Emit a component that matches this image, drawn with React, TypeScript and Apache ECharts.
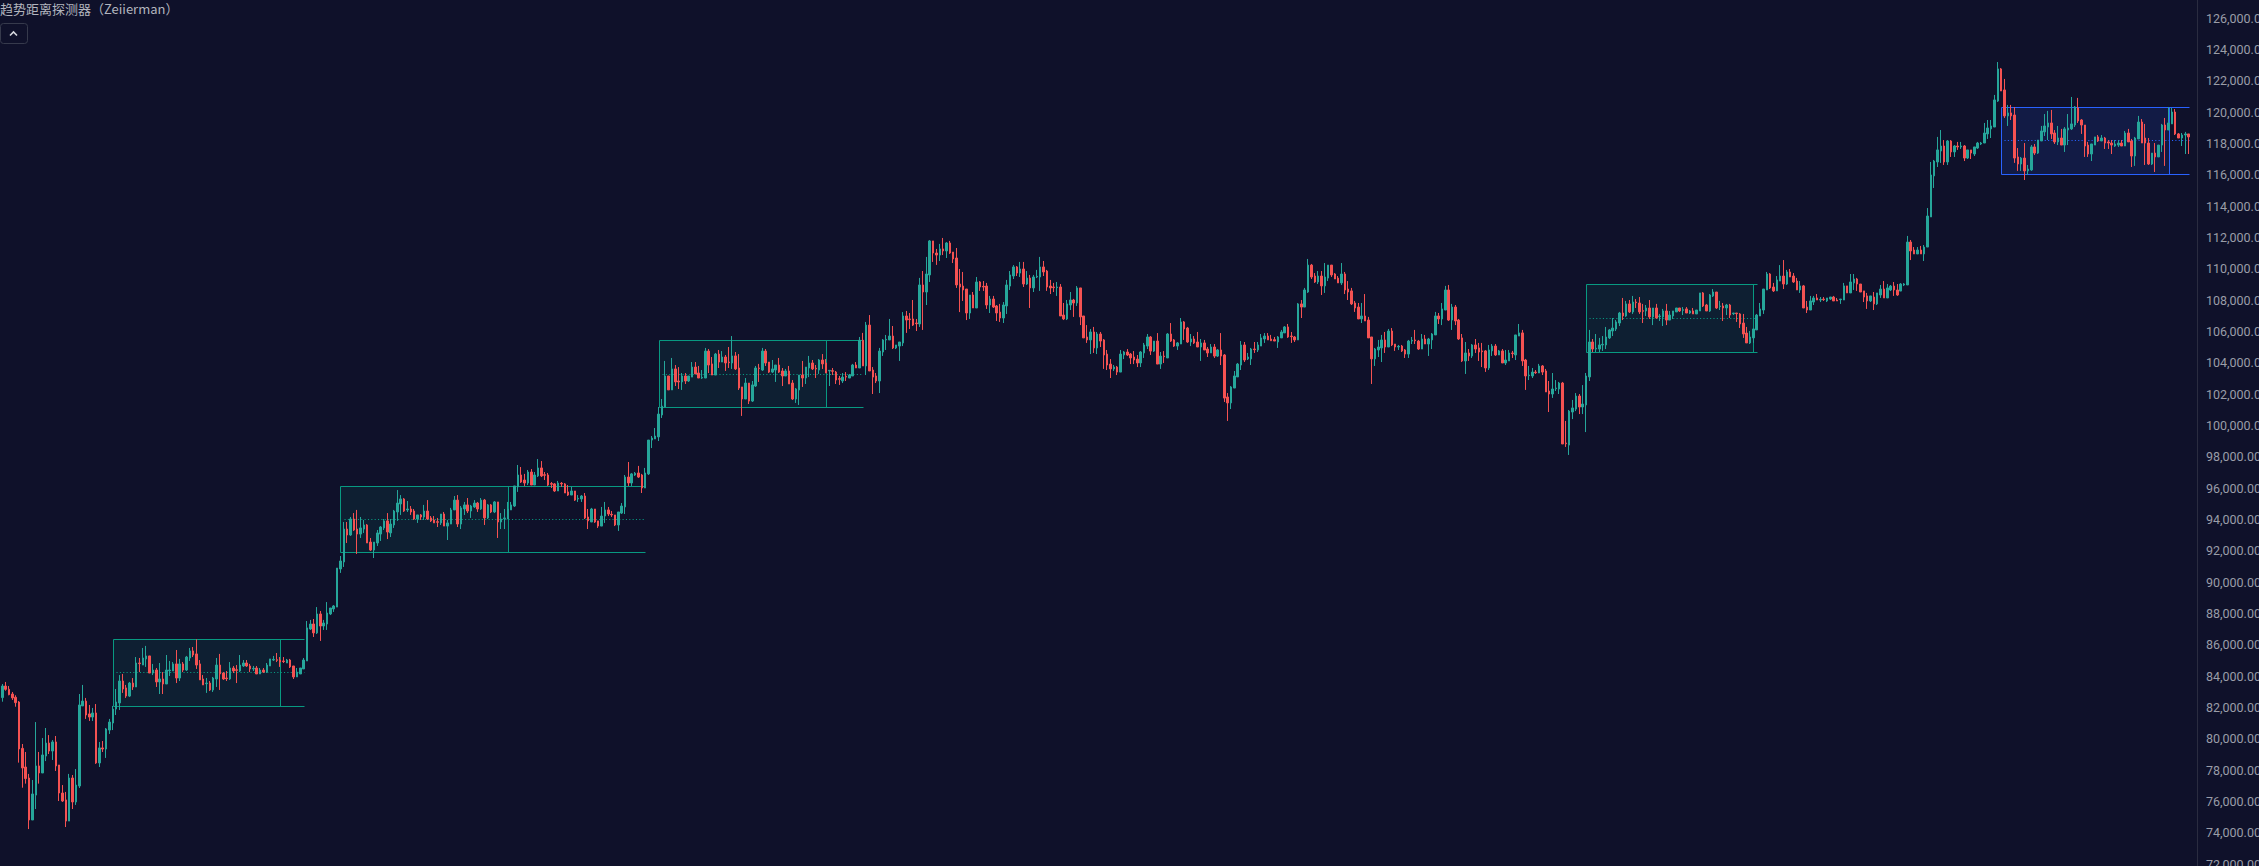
import * as echarts from "echarts";
import { useEffect, useRef } from "react";

// each row is [open, close, low, high]
const candlesA = [
  [82620,83360,82360,83490],[83360,83150,83060,83620],[83150,82810,82770,83360],[82850,82600,82470,82980],[82640,82300,82040,82770],
  [82340,79340,78470,82400],[79380,78130,76870,79660],[78190,77450,77130,79150],[77490,74810,74230,77750],[74810,76470,74810,77360],
  [76400,78260,75510,81060],[78260,77810,77130,79150],[77810,78960,77810,80040],[78890,79720,78570,80680],[79720,79210,79020,80230],
  [79210,79790,78640,79910],[79790,78260,77940,80170],[78320,76530,76020,78320],[76530,76020,75960,77040],[76090,74740,74360,76600],
  [74740,77490,74740,77750],[77490,75960,75510,77680],[75960,77040,75770,78060],[76980,82150,76850,82850],[82090,82400,82090,83430],
  [82400,81510,81260,82600],[81580,81380,81130,82150],[81380,81640,81130,81960],[81640,78450,78390,82210],[78450,79410,78190,79790],
  [79410,79340,79150,79850],[79340,80620,78770,80680],[80550,81060,80300,81260],[81000,81890,80550,82090],[81890,82340,81510,83170],
  [82280,83680,81830,84060],[83680,83170,82920,84130],[83240,82720,82600,83430],[82720,83550,82660,83620],[83550,83300,83110,83870],
  [83300,84830,83300,85210],[84830,84790,84250,85150],[84700,85150,84700,85790],[85090,85280,84580,85920],[85280,84190,84190,85280],
  [84190,84380,84060,84770],[84380,83620,83300,84510],[83620,83810,82850,84830],[83810,83490,82850,84250],[83490,84380,83490,85340],
  [84340,84380,84000,84960],[84320,84770,84320,84890],[84770,83870,83550,85660],[83870,84770,83680,85090],[84770,84380,84250,84890],
  [84380,85210,84320,85280],[85150,85600,84960,85790],[85600,85340,85210,85850],[85410,84700,84450,86340],[84770,83750,83750,85020],
  [83810,83430,83430,84060],[83510,83550,82920,83870],[83550,83110,83040,83680],[83110,83870,82980,83940],[83810,84700,83300,85150],
  [84700,84130,83110,85410],[84190,83810,83750,84250],[83870,83830,83680,84320],[83810,84510,83750,84890],[84510,84320,84190,84640],
  [84400,84360,83550,84700],[84320,84700,84250,85340],[84640,84830,84580,85020],[84830,84640,84580,85020],[84640,84450,84250,84770],
  [84450,84490,84320,84640],[84510,84130,84130,84640],[84130,84380,84130,84510],[84380,84250,84190,84510],[84250,84700,84190,84830],
  [84640,85090,84640,85090],[85020,85060,84960,85280],[85040,85000,84890,85470],[85020,84890,84580,85210],[84960,84920,84830,85210],
  [84830,85020,84830,85090],[85020,84580,84510,85090],[84640,83940,83810,84640],[83940,84250,83940,84510],[84130,84510,84130,84510],
  [84450,85020,84450,85150],[84960,87070,84960,87510],[87000,87320,86940,87580],[87320,86750,86490,87640],[86750,87960,86680,88400],
  [87960,87190,86240,88150],[87190,87380,86940,87580],[87320,88020,86940,88720],[87960,88340,87890,88340],[88280,88470,88090,88530],
  [88400,90890,88400,90890],
];
const candlesB = [
  [90830,91340,90580,91660],[91280,93380,90960,93830],[93380,93000,92490,93830],[93000,94020,92940,94150],[94020,93320,93260,94400],
  [93380,93060,91790,94600],[93060,93450,92810,94150],[93380,93640,93130,93960],[93640,92490,92490,93700],[92550,92040,91980,92810],
  [92040,92550,91530,92550],[92490,93130,92300,93320],[93060,93510,92620,93570],[93450,93900,93320,94020],[93900,93190,92740,94400],
  [93130,93700,92870,94020],[93640,94530,93450,94600],[94470,95040,93900,95870],[94980,95300,94280,95550],[95300,94530,94470,95360],
  [94600,94660,94470,95170],[94660,94470,94280,94850],[94530,94020,93960,94660],[94020,94280,93770,94280],[94280,94150,93960,94340],
  [94150,94530,93960,94920],[94530,94020,93960,95230],[94090,93900,93830,94210],[93960,93770,93770,94210],[93850,93810,93510,94090],
  [93770,94340,93640,94340],[94340,93570,93570,94470],[93570,93770,92680,93960],[93700,94600,93700,94730],[94600,95230,94600,95490],
  [95230,93700,93510,95550],[93700,94730,93380,94850],[94660,94920,94280,95110],[94920,94530,94400,95360],[94530,94850,94090,94920],
  [94790,95040,94730,95230],[95040,94660,94470,95110],[94660,95230,94600,95360],[95230,94090,93640,95300],[94090,94920,94020,94980],
  [94920,94470,94400,94980],[94470,95110,94400,95170],[95110,93830,92810,95110],[93830,94020,93380,94400],[94040,94090,93380,94660],
  [94020,94660,94020,95110],[94600,94920,94600,95110],[94850,96130,94790,96130],[96070,96830,95750,97470],[96830,96380,96320,97340],
  [96510,96320,96130,96900],[96320,97020,96190,97150],[97020,96190,96190,97210],[96190,96830,96190,97020],[96770,97280,96700,97850],
  [97280,96770,96700,97720],[96850,96810,96510,97020],[96830,96190,96130,96960],[96280,96240,96000,96380],[96260,95810,95750,96320],
  [95810,96320,95810,96450],[96300,96260,96070,96380],[96260,95680,95680,96320],[95750,95550,95490,96190],[95550,95810,95550,96070],
  [95810,95230,95170,95810],[95300,95340,95110,95550],[95300,95490,95110,95550],[95490,94090,94020,95680],[94150,93900,93380,94660],
  [93830,94660,93830,94730],[94660,93830,93770,94660],[93900,93570,93450,93900],[93570,94210,93570,94790],[94210,94600,93770,95110],
  [94600,94340,94210,94790],[94320,94280,94150,94530],[94280,93640,93570,94280],[93640,94470,93260,94470],[94400,94850,94340,95040],
  [94790,96700,94340,96830],[96700,96320,96130,97660],[96320,96900,96130,96960],[96830,96940,96770,97020],[96960,96700,96640,97410],
  [96830,96000,95680,96900],[96000,96960,96000,97280],[96900,99060,96830,99060],
];
const candlesC = [
  [99060,99190,98550,99320],[99130,99320,99130,99830],[99260,100720,99000,101170],[100660,101230,100470,101680],[101170,103150,101170,104110],
  [103150,102260,102260,103150],[102260,103600,102260,104300],[103600,102770,102510,103850],[102830,102770,102320,103720],[102770,103150,102260,103340],
  [103150,102830,102640,103340],[102830,103150,102770,103150],[103080,103720,103080,104040],[103720,103280,103280,104040],[103340,103020,103020,103790],
  [103020,103060,102960,103530],[103020,104740,103020,104940],[104740,103850,103340,104870],[103920,103210,103210,104360],[103210,104550,103210,104620],
  [104550,104040,103660,104810],[104040,104360,104040,104740],[104360,103980,103470,104490],[104040,104000,103660,105000],[103980,104430,103600,105700],
  [104430,103600,103530,104680],[103660,102380,102260,104550],[102450,101680,100600,102450],[101680,102700,101680,103020],[102700,101550,101360,102700],
  [101550,102580,101490,102830],[102510,103660,102450,103790],[103660,103620,102770,103920],[103530,104740,103470,104940],[104740,103980,103790,104870],
  [104040,103400,103340,104040],[103400,103600,103340,104170],[103530,103850,102770,103850],[103850,103400,103340,104300],[103470,103150,102510,103660],
  [103150,103470,103150,103600],[103470,102640,102640,103790],[102700,101680,101620,102890],[101680,102320,101430,102380],[102260,103210,101300,103210],
  [103210,103020,102450,104110],[103020,103720,102640,103720],[103660,103980,103080,104430],[103980,103600,103530,104170],[103640,103600,103020,103850],
  [103530,104170,103280,104230],[104170,103920,103600,104550],[103980,103340,103340,104230],[103470,103510,102510,103530],[103490,103450,103210,103660],
  [103400,102890,102640,103470],[102980,102940,102580,103150],[102830,103080,102700,103340],[103130,103080,102830,103400],[103020,103210,103020,103280],
  [103150,103850,103150,103920],[103850,103660,103660,104040],[103660,105430,103660,105640],[105430,103790,103790,105900],[103790,106400,103210,106600],
  [106400,103470,103470,107040],[103530,103080,102000,103720],[103150,102830,102700,103340],[102830,104740,102060,104940],[104680,105450,104430,105510],
  [105450,105490,104810,105770],[105450,105700,105450,106790],[105700,104940,104870,106340],[104940,105130,104870,105130],[105060,105320,104110,105320],
  [105260,106980,105060,107230],
];
const candlesD = [
  [106980,106720,105900,107300],[106790,106750,106150,107170],[106790,106400,106340,108000],[106530,106490,106020,106790],[106470,108960,106280,109410],
  [108960,108510,106090,109850],[108510,109660,107680,110750],[109600,111770,109150,111830],[111770,111000,110430,111770],[111000,110870,110240,111260],
  [110870,111260,110490,111580],[111260,111130,110870,111960],[111130,111640,110680,111700],[111640,111000,110940,111770],[111060,110620,110360,111060],
  [110680,108960,108770,111320],[109020,108830,107230,109980],[108890,108640,107940,109790],[108700,107170,106720,108700],[107170,108320,106790,108320],
  [108320,107490,107490,108510],[107490,109150,107490,109470],[109150,108830,108580,109210],[108870,108830,108580,109210],[108890,107680,107430,109090],
  [107680,108060,107170,108260],[108060,107550,107490,108260],[107620,107170,106660,107680],[107230,106850,106600,107750],[106850,107680,106530,107870],
  [107620,108960,107110,109280],[108890,109600,108640,109850],[109530,110110,109340,110230],[110110,109720,109530,110170],[109720,109980,109470,110430],
  [109980,109020,108830,110430],[109020,109400,108960,109850],[109400,108770,107490,109600],[108770,109470,108510,109600],[109470,109510,109400,109920],
  [109470,110110,108580,110750],[110110,109790,109530,110490],[109850,108830,108580,109920],[108890,108770,108380,109280],[108830,108790,108510,109090],
  [108790,108830,108260,109150],[108830,106980,106980,109020],[107040,106790,106720,107810],[106790,107750,106720,108000],[107680,108000,107360,108510],
  [108000,107810,106920,108070],[107810,108770,107620,108890],[108770,106920,106400,108770],[106980,105580,105580,106980],[105640,105450,105260,106400],
  [105450,105960,104550,106150],[105960,104940,104620,106280],[104940,105830,104550,105960],[105830,105380,105000,105960],[105450,104490,103600,105510],
  [104550,103850,103530,104810],[103910,103600,103020,104230],[103600,103720,103470,103850],[103720,103400,103210,103790],[103400,104550,103400,104810],
  [104490,104680,104230,104740],[104680,104490,104430,104870],[104550,104300,103910,104620],[104360,104170,103910,104740],[104230,103980,103720,104490],
  [103980,104680,103720,104740],[104620,105130,104300,105260],[105060,105640,104870,105830],[105640,104740,104490,105700],[104740,105380,104680,105380],
  [105380,103910,103910,105890],[103910,104420,103600,104680],[104420,104380,103980,104740],[104300,105830,104300,105890],[105830,105380,105320,106530],
  [105450,105060,105000,105510],[105060,105260,104810,105320],[105190,106600,105190,106850],[106600,106150,105450,106660],[106210,105320,105260,106280],
  [105320,105510,105060,105830],[105510,105260,105190,105700],[105320,105000,105000,105960],[105000,105260,104110,105510],[105260,104810,104810,105450],
  [104870,104620,104360,105000],[104620,105000,104620,105190],[105000,104420,104300,105190],[104420,104810,104360,104870],[104810,104420,103850,105890],
  [104490,101740,101490,104550],[101810,101430,100280,102060],[101430,102450,101040,102510],[102380,103150,102380,103470],[103090,103910,103090,103980],
];
const candlesE = [
  [103850,105130,103530,105380],[105130,104170,104040,105320],[104240,104360,104170,104620],[104240,104870,103850,104940],[104870,104830,104620,105320],
  [104810,105130,104680,105320],[105060,105580,105060,105830],[105510,105700,105260,105890],[105700,105450,105450,105890],[105510,105400,105380,105770],
  [105470,105380,105380,105640],[105320,105640,104940,105700],[105580,105960,105580,106090],[105900,106280,105900,106340],[106280,105640,105580,106470],
  [105700,105660,105260,105960],[105640,105450,105320,105700],[105450,107750,105450,107810],[107750,107550,106850,108000],[107550,108640,107550,108770],
  [108510,110230,108450,110620],[110230,109470,109340,110300],[109530,109150,109090,109720],[109150,109530,109020,109850],[109530,108900,108320,109850],
  [108900,109470,108450,110360],[109400,110230,109210,110230],[110230,109600,109470,110230],[109660,109340,109340,109720],[109400,109090,109090,109530],
  [109090,109660,108960,110360],[109660,108640,108380,109790],[108700,108510,108000,109210],[108580,107750,107680,108770],[107810,107490,107240,107940],
  [107550,106790,106790,107810],[106790,106980,106530,107810],[106980,106660,106660,108380],[106720,105580,105580,106920],[105640,104240,102640,105640],
  [104240,104870,103790,104940],[104810,105000,104360,105450],[104940,105450,104040,105770],[105450,105000,104620,105960],[105000,106020,105000,106150],
  [106020,105130,105060,106210],[105190,105000,104750,105190],[105000,105040,104810,105130],[105060,104750,104680,105130],[104810,104550,104300,104870],
  [104550,105380,104300,105450],[105380,105430,105190,105640],[105450,105400,105190,106090],[105380,104870,104810,105450],[104870,105510,104870,105830],
  [105510,105190,105190,105770],[105190,105510,104430,105580],[105450,105830,104870,105890],[105770,106980,105770,107240],[106980,106790,106470,107170],
  [106790,107430,106400,107810],[107360,108640,107360,108900],[108640,106720,106660,108960],[106720,107550,106090,107750],[107550,106660,106400,107680],
  [106720,105510,105450,106790],[105580,104110,104040,105830],[104110,104620,103280,105320],[104620,104430,104110,104870],[104430,105130,104300,105190],
  [105130,104870,104620,105510],[104940,104680,104110,105260],[104750,104700,103720,105260],[104750,103660,103410,104810],[103660,104810,103530,105130],
  [104750,105060,104430,105190],[105060,104490,104430,105190],[104490,104750,104490,104810],[104750,103980,103980,104870],[103980,104170,103850,104810],
  [104110,104620,104110,104810],[104620,104580,104300,104750],[104490,105770,104170,105770],[105700,105900,105700,106470],[105900,104110,103790,106090],
  [104170,103150,102260,104240],[103170,103210,102890,103790],[103150,103400,103020,103660],[103400,103360,103280,103530],[103340,103790,103340,103920],
  [103790,103400,103210,103850],[103470,102130,102130,103600],[102190,102000,100850,102830],[102000,102320,101750,103340],[102340,102380,102190,102890],
  [102320,102700,102000,102770],
];
const candlesF = [
  [102700,98810,98810,102770],[98870,98830,98620,100280],[98740,100910,98110,100980],[100850,101110,100400,101620],[101040,101870,100910,102060],
  [101870,101170,100720,102000],[101170,101360,100720,102570],[101300,103150,99570,103340],[103090,105320,102830,106090],[105320,104870,104680,105510],
  [104870,104920,104680,105830],[104870,105130,104680,105580],[105130,105170,104750,105700],[105130,105640,104870,106280],[105580,106090,105510,106150],
  [106020,106210,105700,106850],[106150,106600,106020,106720],[106530,107170,106340,107240],[107170,106980,106720,108130],[106980,107750,106920,107940],
  [107750,107240,107170,108000],[107240,107870,107110,108260],[107870,107830,107490,108060],[107810,107240,107110,108190],[107320,107280,106530,107750],
  [107300,107490,106980,107680],[107490,106920,106790,108000],[106920,107490,106400,107490],[107490,106850,106790,107750],[106940,106980,106660,107110],
  [106920,107300,106340,107430],[107300,106720,106400,107750],[106720,107040,106720,107300],[106980,107300,106790,107300],[107240,107490,107240,107490],
  [107490,107300,107240,107490],[107340,107380,107040,107550],[107430,107170,107170,107550],[107170,107300,107110,107360],[107300,107110,107110,107490],
  [107110,107360,107110,107360],[107300,108450,107300,108450],[108450,107620,107550,108510],[107680,107300,107300,107750],[107300,108320,107240,108380],
  [108260,108510,108190,108700],[108510,107490,107430,108510],[107580,107620,107360,107940],[107620,107490,106660,107810],[107490,107680,107040,107750],
  [107680,107040,106850,107750],[107130,107170,107040,107170],[107170,107130,106600,107170],[107110,106470,106210,107170],[106530,105830,105580,107110],
  [105890,105260,105260,106280],[105260,105640,105190,106020],[105580,106150,105260,106150],[106090,107040,106090,107110],[106980,107430,106980,107810],
  [107360,108700,107110,108700],[108640,109660,108640,109790],[109660,108770,108700,109720],[108830,108580,108510,109090],[108580,109280,108580,109530],
  [109210,109530,109210,110230],[109530,109020,108700,110550],[109020,109790,108960,109920],[109790,109470,109470,109980],[109530,109150,109090,109720],
  [109210,108640,108640,109410],[108640,108900,108450,109210],[108900,107490,107490,108960],[107550,107360,107170,107940],[107360,107940,107360,108260],
  [107870,108130,107680,108260],[108130,108000,108000,108380],[108000,108040,107870,108190],[108060,108020,107940,108190],[107940,108130,107870,108130],
  [108060,108190,108000,108190],[108190,107940,107940,108260],[108000,107940,107940,108130],[108020,108060,107750,108060],[108000,108900,108000,109090],
  [108900,108450,108450,108900],[108450,109150,108450,109660],[109090,109340,108640,109660],[109340,109020,108580,109410],[109020,108510,108510,109020],
  [108580,108190,107870,108580],[108260,107940,107430,108450],[107940,108260,107870,108260],[108190,107750,107360,108510],[107750,108450,107680,108450],
];
const candlesG = [
  [108320,108700,108130,108960],[108700,108130,108130,109210],[108130,108770,108130,109020],[108640,108890,108570,108960],[108890,108640,108260,109150],
  [108640,108320,108260,109020],[108570,109020,108570,109080],[108960,109020,108890,109080],[108960,111700,108960,112090],[111700,111130,110550,111830],
  [111190,110940,110940,111380],[110940,111190,110940,111380],[111190,110940,110940,111450],[110940,111380,110490,111510],[111380,113360,111380,113870],
  [113300,115980,113300,116810],[115920,116870,115150,116940],[116810,117580,116490,118410],[117510,117830,116750,118850],[117830,116810,116620,118210],
  [116810,118150,116620,118210],[118150,117450,117130,118210],[117450,117830,117130,117890],[117830,117770,117580,118090],[117770,117830,117640,118090],
  [117830,117060,116870,117890],[117060,117580,117000,117580],[117580,117380,117000,117580],[117320,117770,117190,117770],[117700,118020,117640,118090],
  [117960,118020,117890,118090],[118020,118660,118020,119300],[118600,118980,118280,119490],[118920,119110,118340,119490],[119040,120770,119040,121090],
  [120700,122750,120640,123190],[122750,121340,121340,122810],[121410,119750,119620,122110],[119750,119940,119110,120450],[119940,119750,119490,120450],
  [119810,117060,116750,120320],[117130,116680,116240,117700],[116680,117060,116240,117130],[117060,116240,115660,118020],[116240,116360,115980,116620],
  [116300,117770,116240,117890],[117770,117380,117260,117960],[117380,118210,117320,118210],[118150,118790,118150,119110],[118730,119110,118470,119870],
  [119040,119300,118210,120070],[119300,118600,118280,120130],[118660,118090,117960,118850],[118090,118340,117890,119110],[118340,117890,117890,118920],
  [117890,118920,117450,119040],[118850,118980,117890,119870],[118920,119240,118850,120960],[119170,120320,119040,120380],[120260,119430,119300,120900],
  [119490,119170,118600,119550],[119170,117830,117130,119170],[117890,117320,117130,118090],[117320,117960,116870,117960],[117890,118410,117890,118410],
  [118410,118150,118090,118530],[118150,118340,118150,118530],[118340,118020,117640,118410],[118090,118020,117640,118210],[118020,117890,117320,118210],
  [117830,117960,117770,118210],[117890,118020,117770,118210],[118020,117830,117830,118210],[117830,118660,117830,118790],[118660,118090,118090,118920],
  [118150,117190,116490,118280],[117190,118340,116560,118410],[118280,119360,118280,119750],[119360,118020,118020,119550],[118340,118020,116620,119240],
  [118020,116680,116620,118340],[116680,117380,116620,117380],[117380,117130,116170,118020],[117130,117890,117130,117890],[117890,119170,117450,119240],
  [119170,118850,116560,119620],[118850,119300,118850,120320],[119240,120000,119240,120260],[120000,118600,118530,120190],[118600,118340,118340,118660],
  [118340,118530,117830,118660],[118530,118600,117320,118730],[118600,118410,117320,118600],
];
const candles = [...candlesA, ...candlesB, ...candlesC, ...candlesD, ...candlesE, ...candlesF, ...candlesG];

const yTicks = { min: 72000, max: 126000, step: 2000 };

// range boxes, in bar index and price
const boxLeft = [33, 101, 196, 473, 597];
const boxRight = [83, 151, 246, 523, 647];
const boxEnd = [90, 192, 257, 524, 653];
const boxTop = [86340, 96110, 105430, 109000, 120340];
const boxBottom = [82060, 91890, 101150, 104660, 116020];
const boxMid = [84230, 94000, 103260, 106830, 118190];
const boxLine = ["#089981", "#089981", "#089981", "#089981", "#2962ff"];
const boxFill = [
  "rgba(8,153,129,0.1)",
  "rgba(8,153,129,0.1)",
  "rgba(8,153,129,0.1)",
  "rgba(8,153,129,0.1)",
  "rgba(41,98,255,0.13)",
];

const BAR_SLOTS = 656;
const BG = "#0f112a";
const UP = "#26a69a";
const DOWN = "#f55252";

const crisp = (v: number) => Math.round(v) + 0.5;

function renderBox(params: any, api: any) {
  const i = params.dataIndex;
  const [x0, yTop] = api.coord([boxLeft[i], boxTop[i]]);
  const [x1, yBottom] = api.coord([boxRight[i], boxBottom[i]]);
  const [x2, yMid] = api.coord([boxEnd[i], boxMid[i]]);
  const [x3] = api.coord([boxLeft[i] + 1, boxMid[i]]);
  const line = { stroke: boxLine[i], lineWidth: 1 };
  const hLine = (y: number) => ({
    type: "line",
    shape: { x1: crisp(x0), y1: crisp(y), x2: crisp(x2), y2: crisp(y) },
    style: line,
  });
  const vLine = (x: number) => ({
    type: "line",
    shape: { x1: crisp(x), y1: crisp(yTop), x2: crisp(x), y2: crisp(yBottom) },
    style: line,
  });
  return {
    type: "group",
    children: [
      {
        type: "rect",
        shape: { x: crisp(x0), y: crisp(yTop), width: crisp(x1) - crisp(x0), height: crisp(yBottom) - crisp(yTop) },
        style: { fill: boxFill[i] },
      },
      hLine(yTop),
      hLine(yBottom),
      vLine(x0),
      vLine(x1),
      {
        type: "line",
        shape: { x1: crisp(x3), y1: crisp(yMid), x2: crisp(x2), y2: crisp(yMid) },
        style: { stroke: boxLine[i], lineWidth: 1, lineDash: [1.1, 2.25] },
      },
    ],
  };
}

function getOption() {
  return {
    animation: false,
    backgroundColor: BG,
    // outerBoundsMode none: the labels run off the page in the reference, do not shrink the grid for them
    grid: { left: 0.6, right: 62, top: 18, bottom: 2, outerBoundsMode: "none" },
    xAxis: {
      type: "category",
      data: Array.from({ length: BAR_SLOTS }, (_, i) => String(i)),
      axisLine: { show: false },
      axisTick: { show: false },
      axisLabel: { show: false },
      splitLine: { show: false },
    },
    yAxis: {
      type: "value",
      position: "right",
      min: yTicks.min,
      max: yTicks.max,
      interval: yTicks.step,
      axisLine: { show: false },
      axisTick: { show: false },
      splitLine: { show: false },
      axisLabel: {
        color: "#9a9da8",
        fontFamily: "Roboto",
        fontSize: 12.5,
        margin: 9,
        showMinLabel: true,
        showMaxLabel: true,
        formatter: (v: number) =>
          v.toLocaleString("en-US", { minimumFractionDigits: 2, maximumFractionDigits: 2 }),
      },
    },
    graphic: [
      {
        type: "rect",
        shape: { x: 2197, y: 0, width: 1, height: 866 },
        style: { fill: "#2a2c40" },
        silent: true,
      },
      {
        type: "text",
        x: 0,
        y: 2,
        style: {
          text: "趋势距离探测器（Zeiierman）",
          fill: "#b2b5be",
          fontFamily: "'Noto Sans CJK SC'",
          fontSize: 13,
        },
      },
      {
        type: "rect",
        shape: { x: 0.5, y: 23.5, width: 27, height: 20, r: 3 },
        style: { fill: "transparent", stroke: "#363a4c", lineWidth: 1 },
      },
      {
        type: "polyline",
        shape: { points: [[10, 35.5], [13.5, 32], [17, 35.5]] },
        style: { stroke: "#d6d8de", lineWidth: 1.6, fill: "none" },
      },
    ],
    series: [
      {
        type: "custom",
        z: 1,
        clip: false,
        data: boxLeft.map((x, i) => [x, boxTop[i]]),
        renderItem: renderBox,
      },
      {
        type: "candlestick",
        z: 2,
        large: false, // over 600 bars it would otherwise draw bare lines with no bodies
        barWidth: 2,
        data: candles,
        itemStyle: {
          color: UP,
          color0: DOWN,
          borderColor: UP,
          borderColor0: DOWN,
          borderWidth: 1,
        },
      },
    ],
  };
}

export default function App() {
  const chartDiv = useRef<HTMLDivElement>(null);

  useEffect(() => {
    if (!chartDiv.current) return;
    const chart = echarts.init(chartDiv.current, null, { renderer: "svg" });
    chart.setOption(getOption() as any);
    return () => chart.dispose();
  }, []);

  return (
    <div
      ref={chartDiv}
      style={{ position: "fixed", left: 0, top: 0, width: 2259, height: 866, overflow: "hidden" }}
    />
  );
}
